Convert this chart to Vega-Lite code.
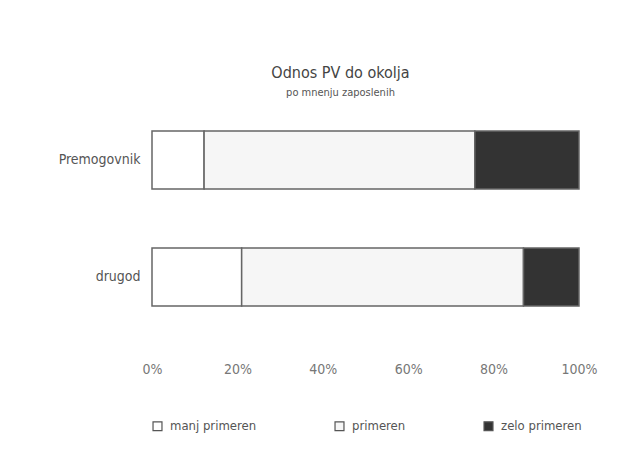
{
  "$schema": "https://vega.github.io/schema/vega-lite/v6.json",
  "autosize": {"type": "none"},
  "width": 427,
  "height": 234,
  "padding": {"left": 152, "top": 101.5, "right": 62, "bottom": 116.5},
  "background": "white",
  "title": {
    "text": "Odnos PV do okolja",
    "subtitle": "po mnenju zaposlenih",
    "anchor": "middle",
    "dx": -25,
    "offset": 4,
    "font": "DejaVu Sans Condensed, Liberation Sans Narrow, Roboto, sans-serif",
    "fontSize": 16,
    "fontWeight": "normal",
    "color": "#444",
    "subtitleFont": "DejaVu Sans Condensed, Liberation Sans Narrow, Roboto, sans-serif",
    "subtitleFontSize": 11,
    "subtitleColor": "#555",
    "subtitlePadding": 6
  },
  "data": {
    "values": [
      {"kraj": "Premogovnik", "ocena": "manj primeren", "ord": 1, "delez": 12.2},
      {"kraj": "Premogovnik", "ocena": "primeren", "ord": 2, "delez": 63.4},
      {"kraj": "Premogovnik", "ocena": "zelo primeren", "ord": 3, "delez": 24.4},
      {"kraj": "drugod", "ocena": "manj primeren", "ord": 1, "delez": 21.0},
      {"kraj": "drugod", "ocena": "primeren", "ord": 2, "delez": 66.0},
      {"kraj": "drugod", "ocena": "zelo primeren", "ord": 3, "delez": 13.0}
    ]
  },
  "mark": {"type": "bar", "size": 58, "stroke": "#666", "strokeWidth": 1.5},
  "encoding": {
    "y": {
      "field": "kraj",
      "type": "nominal",
      "sort": ["Premogovnik", "drugod"],
      "scale": {"paddingInner": 0, "paddingOuter": 0},
      "axis": {
        "title": null,
        "domain": false,
        "ticks": false,
        "labelPadding": 12,
        "labelFont": "DejaVu Sans Condensed, Liberation Sans Narrow, Roboto, sans-serif",
        "labelFontSize": 14,
        "labelColor": "#555"
      }
    },
    "x": {
      "field": "delez",
      "type": "quantitative",
      "stack": "normalize",
      "scale": {"domain": [0, 1]},
      "axis": {
        "title": null,
        "format": ".0%",
        "values": [0, 0.2, 0.4, 0.6, 0.8, 1],
        "grid": false,
        "domain": false,
        "ticks": false,
        "labelFlush": false,
        "labelPadding": 27,
        "labelFont": "DejaVu Sans Condensed, Liberation Sans Narrow, Roboto, sans-serif",
        "labelFontSize": 14,
        "labelColor": "#777"
      }
    },
    "order": {"field": "ord", "type": "quantitative"},
    "color": {
      "field": "ocena",
      "type": "nominal",
      "scale": {
        "domain": ["manj primeren", "primeren", "zelo primeren"],
        "range": ["#ffffff", "#f6f6f6", "#333333"]
      },
      "legend": {
        "title": null,
        "orient": "none",
        "direction": "horizontal",
        "legendX": -1,
        "legendY": 318,
        "symbolType": "square",
        "symbolSize": 80,
        "symbolStrokeColor": "#555",
        "symbolStrokeWidth": 1.2,
        "symbolOpacity": 1,
        "columnPadding": 75,
        "labelOffset": 6,
        "labelFont": "DejaVu Sans Condensed, Liberation Sans Narrow, Roboto, sans-serif",
        "labelFontSize": 13,
        "labelColor": "#555"
      }
    }
  },
  "config": {"view": {"stroke": null}}
}
